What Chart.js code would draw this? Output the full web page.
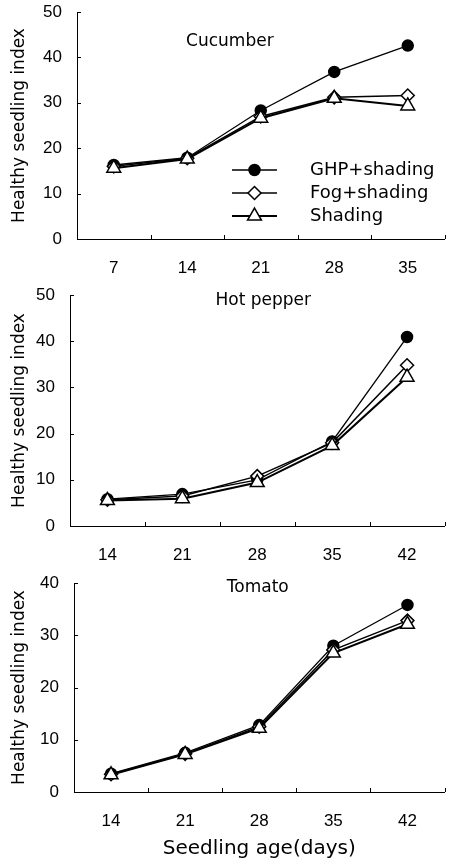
<!DOCTYPE html>
<html>
<head>
<meta charset="utf-8">
<script src="https://cdn.jsdelivr.net/npm/chart.js@4.4.0/dist/chart.umd.min.js"></script>
<style>
  html, body { margin: 0; padding: 0; background: #fff; }
  body { width: 454px; height: 859px; position: relative; overflow: hidden; }
  canvas { position: absolute; left: 0; }
</style>
</head>
<body>
<canvas id="c1" width="454" height="285" style="top:0px"></canvas>
<canvas id="c2" width="454" height="290" style="top:285px"></canvas>
<canvas id="c3" width="454" height="300" style="top:559px"></canvas>
<script>
// Series names (legend)
const seriesNames = ["GHP+shading", "Fog+shading", "Shading"];

// Cucumber
const cucumberDays = ["7", "14", "21", "28", "35"];
const cucumberGHP = [16.3, 17.9, 28.3, 36.8, 42.6];
const cucumberFog = [16.0, 17.8, 27.0, 31.2, 31.6];
const cucumberShade = [15.6, 17.6, 26.6, 31.0, 29.3];

// Hot pepper
const pepperDays = ["14", "21", "28", "35", "42"];
const pepperGHP = [5.8, 6.9, 10.0, 18.3, 40.9];
const pepperFog = [5.7, 6.5, 10.8, 18.0, 34.8];
const pepperShade = [5.5, 5.9, 9.4, 17.4, 32.2];

// Tomato
const tomatoDays = ["14", "21", "28", "35", "42"];
const tomatoGHP = [3.5, 7.5, 12.8, 28.0, 35.8];
const tomatoFog = [3.4, 7.3, 12.5, 27.2, 32.8];
const tomatoShade = [3.3, 7.2, 12.2, 26.6, 32.1];

const yTitle = "Healthy seedling index";
const xTitle = "Seedling age(days)";

const SANS = "'Liberation Sans', Arial, sans-serif";
const DEJAVU = "'DejaVu Sans', sans-serif";

// marker styles per series
const styles = [
  { pointStyle: 'circle', radius: 5.5, fill: '#000', lineWidth: 1.3 },
  { pointStyle: 'rectRot', radius: 6.5, fill: '#fff', lineWidth: 1.5 },
  { pointStyle: 'triangle', radius: 8, fill: '#fff', lineWidth: 2 }
];

// small ticks pointing into the plot
const inwardTicks = {
  id: 'inwardTicks',
  afterDraw(chart) {
    const { ctx, chartArea: a, scales: { x, y } } = chart;
    ctx.save();
    ctx.strokeStyle = '#000';
    ctx.lineWidth = 1;
    ctx.beginPath();
    y.ticks.forEach((t, i) => {
      const py = Math.round(y.getPixelForTick(i)) + 0.5;
      ctx.moveTo(a.left, py);
      ctx.lineTo(a.left + 4, py);
    });
    for (let i = 1; i <= x.ticks.length; i++) {
      const px = Math.round(x.getPixelForValue(i - 0.5)) + 0.5;
      ctx.moveTo(px, a.bottom);
      ctx.lineTo(px, a.bottom - 4);
    }
    ctx.stroke();
    ctx.restore();
  }
};

// crop name inside the plot
const panelTitle = {
  id: 'panelTitle',
  afterDraw(chart, args, opts) {
    const { ctx, chartArea: a } = chart;
    ctx.save();
    ctx.font = "17px " + DEJAVU;
    ctx.fillStyle = '#000';
    ctx.textAlign = 'center';
    ctx.textBaseline = 'alphabetic';
    ctx.fillText(opts.text, a.left + opts.fx * (a.right - a.left), a.top + opts.dy);
    ctx.restore();
  }
};

// legend drawn inside the first panel
const insideLegend = {
  id: 'insideLegend',
  afterDraw(chart, args, opts) {
    if (!opts.show) return;
    const { ctx } = chart;
    ctx.save();
    chart.data.datasets.forEach((ds, i) => {
      const yy = opts.y + i * opts.gap;
      const st = styles[i];
      ctx.strokeStyle = '#000';
      ctx.lineWidth = st.lineWidth;
      ctx.beginPath();
      ctx.moveTo(opts.x0, yy);
      ctx.lineTo(opts.x1, yy);
      ctx.stroke();
      ctx.fillStyle = st.fill;
      ctx.lineWidth = 1.5;
      const cx = (opts.x0 + opts.x1) / 2;
      if (Chart.helpers && Chart.helpers.drawPoint) {
        Chart.helpers.drawPoint(ctx, { pointStyle: st.pointStyle, radius: st.radius, rotation: 0, borderWidth: 1.5 }, cx, yy);
      } else {
        ctx.beginPath(); ctx.arc(cx, yy, st.radius, 0, Math.PI * 2); ctx.fill(); ctx.stroke();
      }
      ctx.fillStyle = '#000';
      ctx.font = "18px " + DEJAVU;
      ctx.textAlign = 'left';
      ctx.textBaseline = 'middle';
      ctx.fillText(ds.label, opts.tx, yy);
    });
    ctx.restore();
  }
};

function makeDatasets(ghp, fog, shade) {
  return [ghp, fog, shade].map((vals, i) => ({
    label: seriesNames[i],
    data: vals,
    borderColor: '#000',
    borderWidth: styles[i].lineWidth,
    backgroundColor: styles[i].fill,
    pointStyle: styles[i].pointStyle,
    pointRadius: styles[i].radius,
    pointBackgroundColor: styles[i].fill,
    pointBorderColor: '#000',
    pointBorderWidth: 1.5,
    tension: 0,
    fill: false,
    order: 2 - i,
    clip: false
  }));
}

function makePanel(id, p) {
  new Chart(document.getElementById(id), {
    type: 'line',
    data: { labels: p.labels, datasets: makeDatasets(p.ghp, p.fog, p.shade) },
    options: {
      responsive: false,
      animation: false,
      devicePixelRatio: 1,
      layout: { padding: { top: p.padTop, right: p.padRight, bottom: 0, left: 0 } },
      plugins: {
        legend: { display: false },
        tooltip: { enabled: false },
        panelTitle: p.title,
        insideLegend: p.legend || { show: false }
      },
      scales: {
        x: {
          type: 'category',
          offset: true,
          grid: { display: false, drawTicks: false },
          border: { display: true, color: '#000', width: 1 },
          ticks: { color: '#000', padding: 19, font: { family: SANS, size: 17 }, maxRotation: 0 },
          title: {
            display: !!p.xTitle,
            text: p.xTitle || '',
            color: '#000',
            font: { family: DEJAVU, size: 20, lineHeight: 1 },
            padding: { top: 0, bottom: 0 }
          },
          afterFit: s => { s.height = p.xHeight; s.paddingLeft = 0; s.paddingRight = 0; }
        },
        y: {
          min: 0,
          max: p.yMax,
          grid: { display: false, drawTicks: false },
          border: { display: true, color: '#000', width: 1 },
          ticks: { stepSize: 10, color: '#000', padding: 15, font: { family: SANS, size: 17 } },
          title: {
            display: true,
            text: yTitle,
            color: '#000',
            font: { family: DEJAVU, size: 17, lineHeight: 1.2 },
            padding: { top: 9, bottom: 0 }
          },
          afterFit: s => { s.width = p.yWidth; s.paddingTop = 0; s.paddingBottom = 0; }
        }
      }
    },
    plugins: [inwardTicks, panelTitle, insideLegend]
  });
}

makePanel('c1', {
  labels: cucumberDays, ghp: cucumberGHP, fog: cucumberFog, shade: cucumberShade,
  yMax: 50, yWidth: 77, xHeight: 46, padTop: 12, padRight: 0,
  title: { text: "Cucumber", fx: 0.416, dy: 34 },
  legend: { show: true, x0: 232, x1: 277, tx: 310, y: 170, gap: 23 }
});

makePanel('c2', {
  labels: pepperDays, ghp: pepperGHP, fog: pepperFog, shade: pepperShade,
  yMax: 50, yWidth: 70, xHeight: 49, padTop: 10, padRight: 4,
  title: { text: "Hot pepper", fx: 0.516, dy: 10 }
});

makePanel('c3', {
  labels: tomatoDays, ghp: tomatoGHP, fog: tomatoFog, shade: tomatoShade,
  yMax: 40, yWidth: 74, xHeight: 67, padTop: 24, padRight: 1,
  title: { text: "Tomato", fx: 0.496, dy: 9 },
  xTitle: xTitle
});
</script>
</body>
</html>
